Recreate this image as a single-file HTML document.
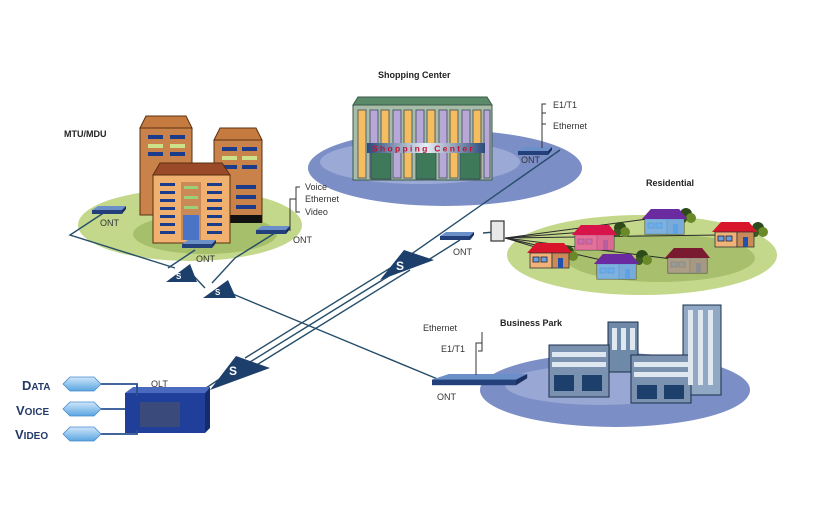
<!DOCTYPE html>
<html><head><meta charset="utf-8"><style>
html,body{margin:0;padding:0;background:#fff;}
svg{display:block;}
text{font-family:"Liberation Sans",sans-serif;}
</style></head><body>
<svg width="817" height="511" viewBox="0 0 817 511" xmlns="http://www.w3.org/2000/svg">
<defs>
<linearGradient id="bl" x1="0" y1="0" x2="1" y2="0"><stop offset="0" stop-color="#2c4a7a"/><stop offset="0.5" stop-color="#e8eef6"/><stop offset="1" stop-color="#2c4a7a"/></linearGradient>
<linearGradient id="arr" x1="0" y1="0" x2="0" y2="1"><stop offset="0" stop-color="#cfe6fa"/><stop offset="1" stop-color="#5aa6e0"/></linearGradient>
<g id="ont"><polygon points="0,4 6,0 34,0 30,6 0,6" fill="#6b8fc8"/><rect x="0" y="4" width="30" height="4" fill="#24407a"/><polygon points="30,4 34,0 34,3 30,8" fill="#1b3060"/></g>
<g id="house"><polygon points="-3,10 6,0 34,0 42,10" fill="#d8152b"/><rect x="0" y="10" width="22" height="15" fill="#f0b278" stroke="#333" stroke-width="0.8"/><rect x="22" y="10" width="17" height="15" fill="#c98a58" stroke="#333" stroke-width="0.8"/><rect x="3" y="14" width="6" height="5" fill="#6aa0e0" stroke="#223" stroke-width="0.8"/><rect x="11" y="14" width="6" height="5" fill="#6aa0e0" stroke="#223" stroke-width="0.8"/><rect x="28" y="15" width="5" height="10" fill="#2050b0"/></g>
<g id="tree"><circle cx="0" cy="0" r="6" fill="#2d4a1a"/><circle cx="5" cy="4" r="5" fill="#6a8a2a"/><circle cx="-3" cy="5" r="4" fill="#3a5a20"/></g>
</defs>

<!-- ellipses -->
<ellipse cx="190" cy="225" rx="112" ry="36" fill="#c3d88a"/>
<ellipse cx="205" cy="234" rx="72" ry="20" fill="#a5bf6a"/>
<ellipse cx="445" cy="168" rx="137" ry="38" fill="#7b8ec6"/>
<ellipse cx="420" cy="162" rx="100" ry="22" fill="#9aa9d6"/>
<ellipse cx="642" cy="255" rx="135" ry="40" fill="#c3d88a"/>
<ellipse cx="660" cy="258" rx="95" ry="24" fill="#a8c06e"/>
<ellipse cx="615" cy="390" rx="135" ry="37" fill="#7b8ec6"/>
<ellipse cx="600" cy="385" rx="95" ry="20" fill="#98a7d4"/>

<!-- fiber lines -->
<g stroke="#264d6a" stroke-width="1.4" fill="none">
<polyline points="105,212 70,235 175,268"/>
<polyline points="195,250 168,268"/>
<polyline points="275,233 235,258 212,283"/>
<polyline points="190,272 205,288"/>
<polyline points="228,292 300,322 440,380"/>
<line x1="200" y1="392" x2="230" y2="372"/>
<line x1="245" y1="358" x2="400" y2="262"/>
<line x1="250" y1="362" x2="405" y2="266"/>
<line x1="255" y1="366" x2="410" y2="270"/>
<line x1="400" y1="262" x2="560" y2="150"/>
<line x1="425" y1="262" x2="460" y2="240"/>
<line x1="483" y1="233" x2="495" y2="232"/>
<line x1="138" y1="386" x2="136" y2="386"/>
</g>
<!-- splitters -->
<g fill="#1d3f6b">
<polygon points="166,282 190,264 197,282"/><text x="176" y="279" font-size="8" fill="#fff" font-weight="bold">S</text>
<polygon points="203,298 228,280 236,298"/><text x="215" y="295" font-size="8" fill="#fff" font-weight="bold">S</text>
<polygon points="380,280 404,250 434,260"/>
<polygon points="210,390 236,356 270,368"/>
</g>
<text x="396" y="270" font-size="12" fill="#fff" font-weight="bold">S</text>
<text x="229" y="375" font-size="12" fill="#fff" font-weight="bold">S</text>

<!-- residential wires -->
<g stroke="#2a2a2a" stroke-width="1">
<line x1="505" y1="238" x2="545" y2="250"/><line x1="505" y1="238" x2="585" y2="232"/><line x1="505" y1="238" x2="655" y2="218"/><line x1="505" y1="238" x2="720" y2="235"/><line x1="505" y1="238" x2="610" y2="262"/><line x1="505" y1="238" x2="680" y2="260"/>
</g>
<rect x="491" y="221" width="13" height="20" fill="#e8e8e8" stroke="#333" stroke-width="1.2"/>
<!-- trees & houses -->
<use href="#tree" x="620" y="228"/><use href="#tree" x="568" y="252"/><use href="#tree" x="686" y="214"/><use href="#tree" x="758" y="228"/><use href="#tree" x="642" y="256"/>
<use href="#house" x="530" y="243"/>
<g transform="translate(575,225)"><use href="#house"/><rect x="0" y="10" width="39" height="15" fill="#e060a0" opacity="0.8"/><polygon points="-3,10 6,0 34,0 42,10" fill="#d8154b"/></g>
<g transform="translate(645,209)"><use href="#house"/><rect x="0" y="10" width="39" height="15" fill="#6ab0f0" opacity="0.85"/><polygon points="-3,10 6,0 34,0 42,10" fill="#6a2aa0"/></g>
<use href="#house" x="715" y="222"/>
<g transform="translate(597,254)"><use href="#house"/><rect x="0" y="10" width="39" height="15" fill="#6ab0f0" opacity="0.85"/><polygon points="-3,10 6,0 34,0 42,10" fill="#6a2aa0"/></g>
<g transform="translate(668,248)"><use href="#house"/><rect x="0" y="10" width="39" height="15" fill="#a09a88" opacity="0.85"/><polygon points="-3,10 6,0 34,0 42,10" fill="#7a1a30"/></g>

<!-- MTU buildings -->
<g stroke="#5a3010" stroke-width="1">
<polygon points="140,128 146,116 186,116 192,128" fill="#c57a40"/>
<rect x="140" y="128" width="52" height="87" fill="#c9824a"/>
<polygon points="214,140 220,128 256,128 262,140" fill="#c57a40"/>
<rect x="214" y="140" width="48" height="82" fill="#c9824a"/>
</g>
<g fill="#1b3c8a">
<rect x="148" y="135" width="15" height="4"/><rect x="170" y="135" width="15" height="4"/><rect x="148" y="144" width="15" height="4" fill="#cde08a"/><rect x="170" y="144" width="15" height="4" fill="#cde08a"/><rect x="148" y="152" width="15" height="4"/><rect x="170" y="152" width="15" height="4"/>
<rect x="222" y="147" width="15" height="4"/><rect x="242" y="147" width="15" height="4"/><rect x="222" y="156" width="15" height="4" fill="#cde08a"/><rect x="242" y="156" width="15" height="4" fill="#cde08a"/><rect x="222" y="165" width="15" height="4"/><rect x="242" y="165" width="15" height="4"/>
<rect x="236" y="185" width="20" height="4"/><rect x="236" y="195" width="20" height="4"/><rect x="236" y="205" width="20" height="4"/>
</g>
<rect x="228" y="215" width="34" height="8" fill="#111"/>
<g stroke="#5a3010" stroke-width="1">
<polygon points="153,175 160,163 222,163 230,175" fill="#9a4a28"/>
<rect x="153" y="175" width="77" height="68" fill="#f0b070"/>
</g>
<rect x="181" y="182" width="20" height="58" fill="#c98a58"/>
<rect x="183" y="215" width="16" height="25" fill="#4a74c8"/>
<g fill="#1b3c8a">
<rect x="160" y="183" width="15" height="3"/><rect x="160" y="191" width="15" height="3"/><rect x="160" y="199" width="15" height="3"/><rect x="160" y="207" width="15" height="3"/><rect x="160" y="215" width="15" height="3"/><rect x="160" y="223" width="15" height="3"/><rect x="160" y="231" width="15" height="3"/>
<rect x="207" y="183" width="15" height="3"/><rect x="207" y="191" width="15" height="3"/><rect x="207" y="199" width="15" height="3"/><rect x="207" y="207" width="15" height="3"/><rect x="207" y="215" width="15" height="3"/><rect x="207" y="223" width="15" height="3"/><rect x="207" y="231" width="15" height="3"/>
<rect x="184" y="186" width="14" height="3" fill="#9bd07a"/><rect x="184" y="196" width="14" height="3" fill="#9bd07a"/><rect x="184" y="206" width="14" height="3" fill="#9bd07a"/>
</g>
<use href="#ont" x="92" y="206"/><use href="#ont" x="182" y="240"/><use href="#ont" x="256" y="226"/>

<!-- shopping center -->
<polygon points="353,105 358,97 487,97 492,105" fill="#5a8a6a" stroke="#3a5a4a"/>
<rect x="353" y="105" width="139" height="75" fill="#a8bca8" stroke="#3a5a4a"/>
<g stroke="#3a4a5a" stroke-width="0.8">
<rect x="358" y="110" width="8" height="68" fill="#f6bd60"/><rect x="370" y="110" width="8" height="68" fill="#b8a8d8"/>
<rect x="381" y="110" width="8" height="68" fill="#f6bd60"/><rect x="393" y="110" width="8" height="68" fill="#b8a8d8"/>
<rect x="404" y="110" width="8" height="68" fill="#f6bd60"/><rect x="416" y="110" width="8" height="68" fill="#b8a8d8"/>
<rect x="427" y="110" width="8" height="68" fill="#f6bd60"/><rect x="439" y="110" width="8" height="68" fill="#b8a8d8"/>
<rect x="450" y="110" width="8" height="68" fill="#f6bd60"/><rect x="462" y="110" width="8" height="68" fill="#b8a8d8"/>
<rect x="473" y="110" width="8" height="68" fill="#f6bd60"/><rect x="484" y="110" width="6" height="68" fill="#b8a8d8"/>
<rect x="371" y="152" width="20" height="27" fill="#3e7a5a"/><rect x="416" y="152" width="20" height="27" fill="#3e7a5a"/><rect x="460" y="152" width="20" height="27" fill="#3e7a5a"/>
</g>
<rect x="367" y="143" width="118" height="10" fill="url(#bl)"/>
<text x="372" y="151.5" font-size="8.5" font-weight="bold" fill="#c81030" letter-spacing="2.3">Shopping Center</text>
<use href="#ont" x="518" y="147"/>
<polyline points="542,148 542,113 546,113 M542,124 546,124" stroke="#333" fill="none"/>
<path d="M546,104 L542,104 L542,124 L546,124" stroke="#333" fill="none"/>
<use href="#ont" x="440" y="232"/>

<!-- business park -->
<g stroke="#1b2e4a" stroke-width="1">
<rect x="608" y="322" width="30" height="50" fill="#6f8aa8"/>
<rect x="683" y="305" width="38" height="90" fill="#90a8c4"/>
<rect x="549" y="345" width="60" height="52" fill="#7a92b0"/>
<rect x="631" y="355" width="60" height="48" fill="#7a92b0"/>
</g>
<g fill="#dfe7f0">
<rect x="612" y="328" width="5" height="22"/><rect x="621" y="328" width="5" height="22"/><rect x="630" y="328" width="5" height="22"/>
<rect x="688" y="310" width="5" height="75"/><rect x="698" y="310" width="5" height="75"/><rect x="708" y="310" width="5" height="75"/>
<rect x="552" y="352" width="54" height="5"/><rect x="552" y="362" width="54" height="5"/><rect x="634" y="362" width="54" height="5"/><rect x="634" y="372" width="54" height="5"/>
</g>
<g fill="#1d3f6b">
<rect x="554" y="375" width="20" height="16"/><rect x="582" y="375" width="20" height="16"/><rect x="637" y="385" width="20" height="14"/><rect x="664" y="385" width="20" height="14"/>
</g>
<g transform="translate(432,374) scale(2.8,1.4)"><use href="#ont"/></g>
<path d="M476,375 L476,343 L482,343 M476,343 L482,343 M482,332 L482,351 L478,351" stroke="#333" fill="none"/>

<!-- OLT -->
<rect x="125" y="393" width="80" height="40" fill="#1f3f9a"/>
<polygon points="125,393 133,387 210,387 205,393" fill="#4a6ac0"/>
<polygon points="205,393 210,387 210,428 205,433" fill="#152c6a"/>
<rect x="140" y="402" width="40" height="25" fill="#3a4a7a"/>
<g stroke="#2a4f8f" stroke-width="1.8" fill="none">
<polyline points="100,384 137,384 137,396"/><line x1="100" y1="409" x2="125" y2="409"/><polyline points="100,434 137,434 137,430"/>
</g>
<g fill="url(#arr)" stroke="#4a8ad0" stroke-width="0.8">
<polygon points="63,384 70,377 94,377 101,384 94,391 70,391"/>
<polygon points="63,409 70,402 94,402 101,409 94,416 70,416"/>
<polygon points="63,434 70,427 94,427 101,434 94,441 70,441"/>
</g>
<g fill="#243b6a" font-weight="bold">
<text x="22" y="390" font-size="13">D<tspan font-size="10">ATA</tspan></text>
<text x="16" y="415" font-size="13">V<tspan font-size="10">OICE</tspan></text>
<text x="15" y="439" font-size="13">V<tspan font-size="10">IDEO</tspan></text>
</g>

<!-- labels -->
<g font-size="9" fill="#333">
<text x="151" y="387">OLT</text>
<text x="100" y="226">ONT</text>
<text x="196" y="262">ONT</text>
<text x="293" y="243">ONT</text>
<text x="521" y="163">ONT</text>
<text x="453" y="255">ONT</text>
<text x="437" y="400">ONT</text>
<text x="305" y="190">Voice</text>
<text x="305" y="202">Ethernet</text>
<text x="305" y="215">Video</text>
<text x="553" y="108">E1/T1</text>
<text x="553" y="129">Ethernet</text>
<text x="423" y="331">Ethernet</text>
<text x="441" y="352">E1/T1</text>
</g>
<path d="M300,187 L296,187 L296,212 L300,212 M296,199 L290,199 L290,231" stroke="#333" fill="none"/>
<g font-size="9" font-weight="bold" fill="#222">
<text x="64" y="137">MTU/MDU</text>
<text x="378" y="78">Shopping Center</text>
<text x="646" y="186">Residential</text>
<text x="500" y="326">Business Park</text>
</g>
</svg>
</body></html>
